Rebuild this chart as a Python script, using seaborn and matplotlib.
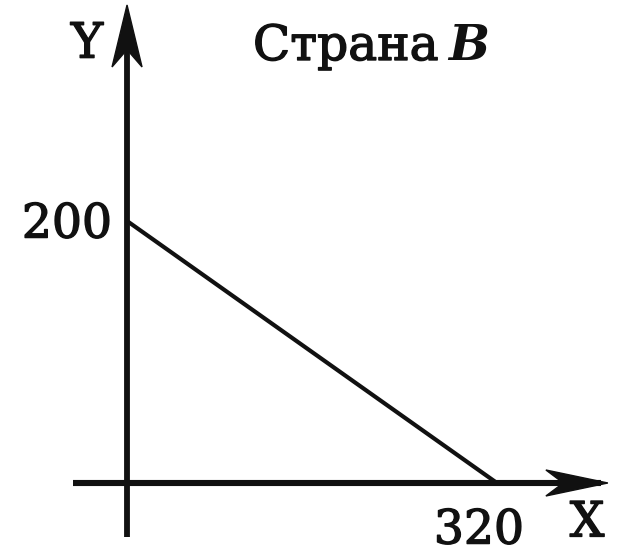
import matplotlib
matplotlib.use("Agg")
import matplotlib.pyplot as plt
import matplotlib.transforms as mtransforms
import matplotlib.patheffects as pe
from matplotlib.patches import Polygon
import seaborn as sns

# Production possibilities frontier of country B
x_vals = [0, 320]
y_vals = [200, 0]
x_tick_label = "320"
y_tick_label = "200"
title_word = "Страна"
title_letter = "B"
x_name = "X"
y_name = "Y"

sns.set_theme(style="white")
plt.rcParams["font.family"] = ["DejaVu Serif", "DejaVu Sans"]

fig = plt.figure(figsize=(6.25, 5.57), dpi=100)
ax = fig.add_axes([0, 0, 1, 1])
ax.set_xlim(-109.9, 430.8)
ax.set_ylim(-56.5, 368.7)
ax.axis("off")

ink = "#111111"

# frontier line
sns.lineplot(x=x_vals, y=y_vals, ax=ax, color=ink, linewidth=3.0,
             solid_capstyle="butt")

# coordinate axes
ax.plot([-46.7, 410], [0, 0], color=ink, linewidth=4.4, solid_capstyle="butt")
ax.plot([0, 0], [-41.2, 358], color=ink, linewidth=4.2, solid_capstyle="butt")


def arrow_head(x_tip, y_tip, angle, length=62, width=28, notch=0.72):
    verts = [(0, 0), (-length, width / 2), (-length * notch, 0),
             (-length, -width / 2)]
    trans = (mtransforms.Affine2D().rotate_deg(angle)
             + mtransforms.ScaledTranslation(x_tip, y_tip, ax.transData))
    ax.add_patch(Polygon(verts, closed=True, transform=trans,
                         facecolor=ink, edgecolor=ink, linewidth=1))


arrow_head(416, 0, 0, length=62, width=26)
arrow_head(0, 364.9, 90, length=62, width=30)

heavy = [pe.withStroke(linewidth=1.0, foreground=ink)]
fs = 35
ax.text(-13, 197, y_tick_label, ha="right", va="center", fontsize=34,
        color=ink, path_effects=heavy)
ax.text(304.5, -36.6, x_tick_label, ha="center", va="center",
        fontsize=34, color=ink, path_effects=heavy)
ax.text(398, -30.5, x_name, ha="center", va="center", fontsize=fs, color=ink,
        path_effects=heavy)
ax.text(-34.6, 335, y_name, ha="center", va="center", fontsize=fs, color=ink,
        path_effects=heavy)
ax.text(109, 322.9, title_word, ha="left", va="baseline", fontsize=fs,
        color=ink, path_effects=heavy)
ax.text(277.5, 322.9, title_letter, ha="left", va="baseline", fontsize=fs,
        fontstyle="italic", fontweight="bold", color=ink)

fig.savefig("out.png", dpi=100, facecolor="white")
